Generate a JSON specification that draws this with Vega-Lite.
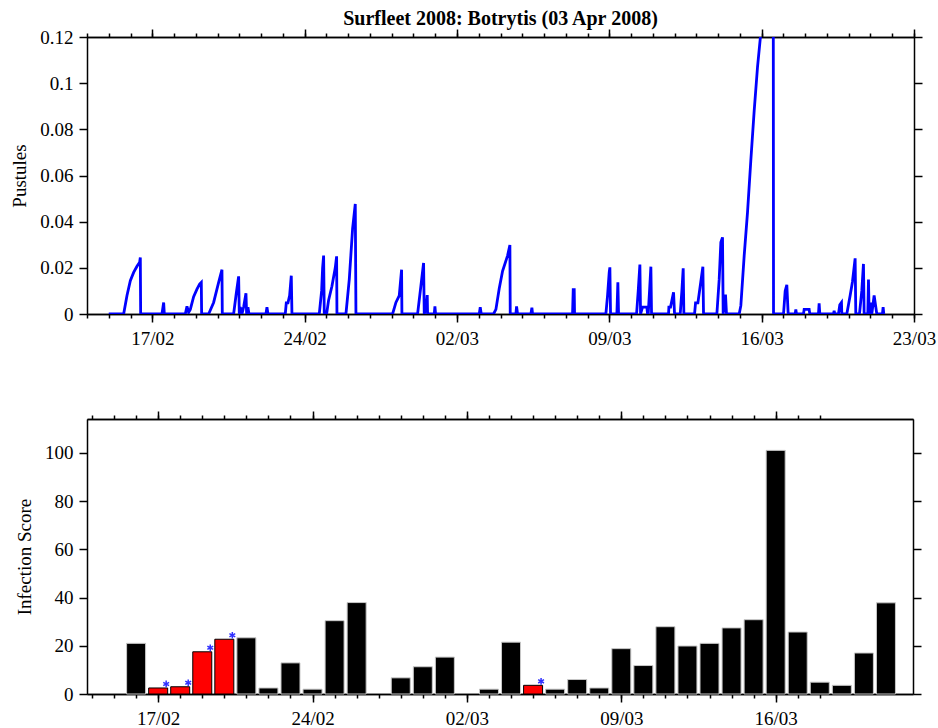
{
  "$schema": "https://vega.github.io/schema/vega-lite/v6.json",
  "background": "white",
  "padding": {"left": 10, "top": 9, "right": 2, "bottom": 2},
  "spacing": 62,
  "config": {
    "font": "Liberation Serif",
    "view": {"stroke": null},
    "axis": {
      "domainColor": "black", "domainWidth": 1.5, "tickColor": "black", "tickWidth": 1.5,
      "labelFont": "Liberation Serif", "labelFontSize": 19, "labelColor": "black",
      "titleFont": "Liberation Serif", "titleFontSize": 19, "titleFontWeight": "normal", "titleColor": "black",
      "grid": false, "labelFlush": false, "labelOverlap": false, "labelPadding": 7, "titlePadding": 10
    }
  },
  "datasets": {
    "pustules": [
      {"t": "2008-02-15T00:00", "v": 0},
      {"t": "2008-02-15T16:25", "v": 0},
      {"t": "2008-02-15T20:06", "v": 0.008},
      {"t": "2008-02-15T23:47", "v": 0.0144},
      {"t": "2008-02-16T03:27", "v": 0.018},
      {"t": "2008-02-16T07:08", "v": 0.0207},
      {"t": "2008-02-16T10:04", "v": 0.0224},
      {"t": "2008-02-16T10:48", "v": 0.0245},
      {"t": "2008-02-16T11:10", "v": 0},
      {"t": "2008-02-17T10:41", "v": 0},
      {"t": "2008-02-17T12:32", "v": 0.005},
      {"t": "2008-02-17T13:16", "v": 0},
      {"t": "2008-02-18T12:25", "v": 0},
      {"t": "2008-02-18T14:15", "v": 0.0033},
      {"t": "2008-02-18T16:05", "v": 0.0007},
      {"t": "2008-02-18T17:56", "v": 0.002},
      {"t": "2008-02-18T21:36", "v": 0.0075},
      {"t": "2008-02-19T01:17", "v": 0.0108},
      {"t": "2008-02-19T04:13", "v": 0.013},
      {"t": "2008-02-19T06:03", "v": 0.0137},
      {"t": "2008-02-19T06:25", "v": 0},
      {"t": "2008-02-19T14:09", "v": 0},
      {"t": "2008-02-19T19:39", "v": 0.005},
      {"t": "2008-02-20T01:10", "v": 0.0137},
      {"t": "2008-02-20T04:50", "v": 0.0192},
      {"t": "2008-02-20T05:12", "v": 0},
      {"t": "2008-02-20T17:42", "v": 0},
      {"t": "2008-02-20T20:38", "v": 0.009},
      {"t": "2008-02-20T23:13", "v": 0.0163},
      {"t": "2008-02-20T23:57", "v": 0},
      {"t": "2008-02-21T01:03", "v": 0.003},
      {"t": "2008-02-21T02:53", "v": 0},
      {"t": "2008-02-21T04:44", "v": 0.003},
      {"t": "2008-02-21T07:18", "v": 0.009},
      {"t": "2008-02-21T08:02", "v": 0},
      {"t": "2008-02-21T09:30", "v": 0.003},
      {"t": "2008-02-21T10:36", "v": 0},
      {"t": "2008-02-22T05:21", "v": 0},
      {"t": "2008-02-22T06:27", "v": 0.003},
      {"t": "2008-02-22T07:33", "v": 0},
      {"t": "2008-02-23T02:40", "v": 0},
      {"t": "2008-02-23T03:46", "v": 0.0048},
      {"t": "2008-02-23T05:36", "v": 0.0048},
      {"t": "2008-02-23T07:27", "v": 0.008},
      {"t": "2008-02-23T09:17", "v": 0.0166},
      {"t": "2008-02-23T10:01", "v": 0},
      {"t": "2008-02-24T16:09", "v": 0},
      {"t": "2008-02-24T18:44", "v": 0.01},
      {"t": "2008-02-24T19:50", "v": 0.02},
      {"t": "2008-02-24T20:56", "v": 0.0253},
      {"t": "2008-02-24T21:40", "v": 0},
      {"t": "2008-02-25T00:14", "v": 0},
      {"t": "2008-02-25T02:26", "v": 0.006},
      {"t": "2008-02-25T06:06", "v": 0.012},
      {"t": "2008-02-25T09:47", "v": 0.02},
      {"t": "2008-02-25T11:16", "v": 0.025},
      {"t": "2008-02-25T11:38", "v": 0},
      {"t": "2008-02-25T21:33", "v": 0},
      {"t": "2008-02-26T01:14", "v": 0.015},
      {"t": "2008-02-26T04:54", "v": 0.037},
      {"t": "2008-02-26T07:51", "v": 0.0477},
      {"t": "2008-02-26T08:35", "v": 0},
      {"t": "2008-02-28T01:00", "v": 0},
      {"t": "2008-02-28T04:41", "v": 0.005},
      {"t": "2008-02-28T08:21", "v": 0.008},
      {"t": "2008-02-28T10:55", "v": 0.0192},
      {"t": "2008-02-28T11:17", "v": 0},
      {"t": "2008-02-29T04:34", "v": 0},
      {"t": "2008-02-29T08:15", "v": 0.0123},
      {"t": "2008-02-29T11:11", "v": 0.0221},
      {"t": "2008-02-29T11:55", "v": 0},
      {"t": "2008-02-29T14:07", "v": 0.003},
      {"t": "2008-02-29T15:13", "v": 0.0082},
      {"t": "2008-02-29T15:35", "v": 0},
      {"t": "2008-02-29T22:57", "v": 0},
      {"t": "2008-02-29T23:41", "v": 0.0033},
      {"t": "2008-03-01T00:25", "v": 0},
      {"t": "2008-03-03T00:34", "v": 0},
      {"t": "2008-03-03T01:40", "v": 0.003},
      {"t": "2008-03-03T02:46", "v": 0},
      {"t": "2008-03-03T16:21", "v": 0},
      {"t": "2008-03-03T18:56", "v": 0.002},
      {"t": "2008-03-03T22:36", "v": 0.011},
      {"t": "2008-03-04T02:17", "v": 0.0186},
      {"t": "2008-03-04T07:48", "v": 0.0253},
      {"t": "2008-03-04T10:22", "v": 0.0299},
      {"t": "2008-03-04T10:44", "v": 0},
      {"t": "2008-03-04T16:59", "v": 0},
      {"t": "2008-03-04T17:43", "v": 0.0033},
      {"t": "2008-03-04T18:49", "v": 0},
      {"t": "2008-03-05T09:31", "v": 0},
      {"t": "2008-03-05T10:37", "v": 0.0027},
      {"t": "2008-03-05T11:21", "v": 0},
      {"t": "2008-03-07T07:27", "v": 0},
      {"t": "2008-03-07T08:12", "v": 0.0105},
      {"t": "2008-03-07T09:18", "v": 0.0105},
      {"t": "2008-03-07T09:40", "v": 0},
      {"t": "2008-03-08T20:13", "v": 0},
      {"t": "2008-03-08T22:03", "v": 0.008},
      {"t": "2008-03-08T23:53", "v": 0.018},
      {"t": "2008-03-09T00:37", "v": 0.0202},
      {"t": "2008-03-09T01:21", "v": 0},
      {"t": "2008-03-09T08:20", "v": 0},
      {"t": "2008-03-09T09:26", "v": 0.0137},
      {"t": "2008-03-09T10:11", "v": 0},
      {"t": "2008-03-10T06:03", "v": 0},
      {"t": "2008-03-10T07:53", "v": 0.01},
      {"t": "2008-03-10T09:43", "v": 0.0214},
      {"t": "2008-03-10T10:27", "v": 0},
      {"t": "2008-03-10T12:39", "v": 0.003},
      {"t": "2008-03-10T17:26", "v": 0.003},
      {"t": "2008-03-10T18:10", "v": 0},
      {"t": "2008-03-10T18:54", "v": 0},
      {"t": "2008-03-10T20:22", "v": 0.01},
      {"t": "2008-03-10T21:50", "v": 0.0205},
      {"t": "2008-03-10T22:34", "v": 0},
      {"t": "2008-03-11T17:19", "v": 0},
      {"t": "2008-03-11T17:41", "v": 0.003},
      {"t": "2008-03-11T19:31", "v": 0.003},
      {"t": "2008-03-11T22:50", "v": 0.0094},
      {"t": "2008-03-11T23:56", "v": 0},
      {"t": "2008-03-12T06:11", "v": 0},
      {"t": "2008-03-12T08:01", "v": 0.01},
      {"t": "2008-03-12T09:29", "v": 0.0198},
      {"t": "2008-03-12T10:13", "v": 0},
      {"t": "2008-03-12T22:00", "v": 0},
      {"t": "2008-03-12T23:06", "v": 0.0048},
      {"t": "2008-03-13T01:40", "v": 0.0048},
      {"t": "2008-03-13T04:13", "v": 0.012},
      {"t": "2008-03-13T07:10", "v": 0.0205},
      {"t": "2008-03-13T07:54", "v": 0},
      {"t": "2008-03-13T22:36", "v": 0},
      {"t": "2008-03-14T01:10", "v": 0.015},
      {"t": "2008-03-14T03:00", "v": 0.0311},
      {"t": "2008-03-14T04:50", "v": 0.0332},
      {"t": "2008-03-14T05:34", "v": 0},
      {"t": "2008-03-14T08:08", "v": 0.0084},
      {"t": "2008-03-14T09:14", "v": 0},
      {"t": "2008-03-14T23:13", "v": 0},
      {"t": "2008-03-15T01:03", "v": 0.0036},
      {"t": "2008-03-15T04:44", "v": 0.0253},
      {"t": "2008-03-15T08:24", "v": 0.044},
      {"t": "2008-03-15T12:05", "v": 0.0667},
      {"t": "2008-03-15T15:45", "v": 0.088},
      {"t": "2008-03-15T19:26", "v": 0.107},
      {"t": "2008-03-15T22:23", "v": 0.119},
      {"t": "2008-03-16T05:44", "v": 0.15},
      {"t": "2008-03-16T12:43", "v": 0.18},
      {"t": "2008-03-16T13:05", "v": 0},
      {"t": "2008-03-17T00:06", "v": 0},
      {"t": "2008-03-17T01:56", "v": 0.01},
      {"t": "2008-03-17T03:45", "v": 0.0126},
      {"t": "2008-03-17T05:14", "v": 0},
      {"t": "2008-03-17T12:57", "v": 0},
      {"t": "2008-03-17T13:41", "v": 0.002},
      {"t": "2008-03-17T14:25", "v": 0},
      {"t": "2008-03-17T22:08", "v": 0},
      {"t": "2008-03-17T22:52", "v": 0.002},
      {"t": "2008-03-18T00:42", "v": 0.002},
      {"t": "2008-03-18T01:48", "v": 0.002},
      {"t": "2008-03-18T04:22", "v": 0.002},
      {"t": "2008-03-18T05:06", "v": 0},
      {"t": "2008-03-18T14:39", "v": 0},
      {"t": "2008-03-18T15:23", "v": 0.0046},
      {"t": "2008-03-18T16:08", "v": 0},
      {"t": "2008-03-19T07:12", "v": 0},
      {"t": "2008-03-19T07:56", "v": 0.0014},
      {"t": "2008-03-19T08:40", "v": 0},
      {"t": "2008-03-19T12:43", "v": 0},
      {"t": "2008-03-19T14:11", "v": 0.004},
      {"t": "2008-03-19T16:01", "v": 0.005},
      {"t": "2008-03-19T16:23", "v": 0},
      {"t": "2008-03-19T21:54", "v": 0},
      {"t": "2008-03-20T01:35", "v": 0.008},
      {"t": "2008-03-20T04:09", "v": 0.014},
      {"t": "2008-03-20T07:05", "v": 0.0241},
      {"t": "2008-03-20T07:49", "v": 0},
      {"t": "2008-03-20T11:52", "v": 0},
      {"t": "2008-03-20T14:26", "v": 0.01},
      {"t": "2008-03-20T16:16", "v": 0.0217},
      {"t": "2008-03-20T17:01", "v": 0},
      {"t": "2008-03-20T21:03", "v": 0},
      {"t": "2008-03-20T21:48", "v": 0.0149},
      {"t": "2008-03-20T22:32", "v": 0},
      {"t": "2008-03-21T00:44", "v": 0.005},
      {"t": "2008-03-21T01:28", "v": 0},
      {"t": "2008-03-21T04:02", "v": 0.008},
      {"t": "2008-03-21T05:30", "v": 0.004},
      {"t": "2008-03-21T06:58", "v": 0},
      {"t": "2008-03-21T13:13", "v": 0},
      {"t": "2008-03-21T13:57", "v": 0.003},
      {"t": "2008-03-21T14:41", "v": 0},
      {"t": "2008-03-21T15:03", "v": 0}
    ],
    "scores": [
      {"d": "2008-02-16T00:00", "score": 21, "risk": "no"},
      {"d": "2008-02-17T00:00", "score": 2.5, "risk": "yes"},
      {"d": "2008-02-18T00:00", "score": 3, "risk": "yes"},
      {"d": "2008-02-19T00:00", "score": 17.5, "risk": "yes"},
      {"d": "2008-02-20T00:00", "score": 22.7, "risk": "yes"},
      {"d": "2008-02-21T00:00", "score": 23.3, "risk": "no"},
      {"d": "2008-02-22T00:00", "score": 2.5, "risk": "no"},
      {"d": "2008-02-23T00:00", "score": 12.9, "risk": "no"},
      {"d": "2008-02-24T00:00", "score": 2, "risk": "no"},
      {"d": "2008-02-25T00:00", "score": 30.4, "risk": "no"},
      {"d": "2008-02-26T00:00", "score": 37.9, "risk": "no"},
      {"d": "2008-02-28T00:00", "score": 6.7, "risk": "no"},
      {"d": "2008-02-29T00:00", "score": 11.3, "risk": "no"},
      {"d": "2008-03-01T00:00", "score": 15.3, "risk": "no"},
      {"d": "2008-03-03T00:00", "score": 2, "risk": "no"},
      {"d": "2008-03-04T00:00", "score": 21.5, "risk": "no"},
      {"d": "2008-03-05T00:00", "score": 3.6, "risk": "yes"},
      {"d": "2008-03-06T00:00", "score": 2, "risk": "no"},
      {"d": "2008-03-07T00:00", "score": 6, "risk": "no"},
      {"d": "2008-03-08T00:00", "score": 2.5, "risk": "no"},
      {"d": "2008-03-09T00:00", "score": 18.8, "risk": "no"},
      {"d": "2008-03-10T00:00", "score": 11.8, "risk": "no"},
      {"d": "2008-03-11T00:00", "score": 27.9, "risk": "no"},
      {"d": "2008-03-12T00:00", "score": 19.9, "risk": "no"},
      {"d": "2008-03-13T00:00", "score": 21, "risk": "no"},
      {"d": "2008-03-14T00:00", "score": 27.4, "risk": "no"},
      {"d": "2008-03-15T00:00", "score": 30.8, "risk": "no"},
      {"d": "2008-03-16T00:00", "score": 101, "risk": "no"},
      {"d": "2008-03-17T00:00", "score": 25.7, "risk": "no"},
      {"d": "2008-03-18T00:00", "score": 4.9, "risk": "no"},
      {"d": "2008-03-19T00:00", "score": 3.6, "risk": "no"},
      {"d": "2008-03-20T00:00", "score": 17, "risk": "no"},
      {"d": "2008-03-21T00:00", "score": 37.8, "risk": "no"}
    ]
  },
  "vconcat": [
    {
      "width": 827,
      "height": 277,
      "title": {"text": "Surfleet 2008: Botrytis (03 Apr 2008)", "font": "Liberation Serif", "fontSize": 20, "fontWeight": "bold", "color": "black", "anchor": "middle", "baseline": "alphabetic", "offset": -17},
      "data": {"name": "pustules"},
      "layer": [
        {
          "mark": {"type": "line", "strokeOpacity": 0, "clip": true},
          "encoding": {
            "x": {"field": "t", "type": "temporal", "scale": {"domain": [{"year": 2008, "month": 2, "date": 14}, {"year": 2008, "month": 3, "date": 23}]}, "axis": {"orient": "top", "tickCount": "week", "labels": false, "tickSize": 8, "title": null}},
            "y": {"field": "v", "type": "quantitative", "scale": {"domain": [0, 0.12], "nice": false, "zero": true}, "axis": {"orient": "right", "labels": false, "tickSize": 8, "title": null, "values": [0, 0.02, 0.04, 0.06, 0.08, 0.1, 0.12]}}
          }
        },
        {
          "mark": {"type": "line", "strokeOpacity": 0, "clip": true},
          "encoding": {
            "x": {"field": "t", "type": "temporal", "scale": {"domain": [{"year": 2008, "month": 2, "date": 14}, {"year": 2008, "month": 3, "date": 23}]}, "axis": {"orient": "top", "tickCount": "day", "labels": false, "tickSize": 4, "title": null}},
            "y": {"field": "v", "type": "quantitative", "axis": null}
          }
        },
        {
          "mark": {"type": "line", "strokeOpacity": 0, "clip": true},
          "encoding": {
            "x": {"field": "t", "type": "temporal", "scale": {"domain": [{"year": 2008, "month": 2, "date": 14}, {"year": 2008, "month": 3, "date": 23}]}, "axis": {"orient": "bottom", "tickCount": "day", "labels": false, "tickSize": 4, "title": null}},
            "y": {"field": "v", "type": "quantitative", "axis": null}
          }
        },
        {
          "mark": {"type": "line", "color": "#0000ff", "strokeWidth": 2.8, "clip": true},
          "encoding": {
            "x": {"field": "t", "type": "temporal", "scale": {"domain": [{"year": 2008, "month": 2, "date": 14}, {"year": 2008, "month": 3, "date": 23}]}, "axis": {"orient": "bottom", "tickCount": "week", "format": "%d/%m", "tickSize": 8, "labelPadding": 7, "title": null}},
            "y": {"field": "v", "type": "quantitative", "axis": {"orient": "left", "title": "Pustules", "values": [0, 0.02, 0.04, 0.06, 0.08, 0.1, 0.12], "format": ".2~f", "tickSize": 8, "labelPadding": 6}}
          }
        }
      ],
      "resolve": {"axis": {"x": "independent", "y": "independent"}}
    },
    {
      "width": 826,
      "height": 275,
      "data": {"name": "scores"},
      "layer": [
        {
          "mark": {"type": "point", "opacity": 0, "clip": true},
          "encoding": {
            "x": {"field": "d", "type": "temporal", "scale": {"domain": [{"year": 2008, "month": 2, "date": 14}, {"year": 2008, "month": 3, "date": 22}]}, "axis": {"orient": "top", "tickCount": "week", "labels": false, "tickSize": 8, "title": null}},
            "y": {"field": "score", "type": "quantitative", "scale": {"domain": [0, 114], "nice": false}, "axis": {"orient": "right", "labels": false, "tickSize": 8, "title": null, "values": [0, 20, 40, 60, 80, 100]}}
          }
        },
        {
          "mark": {"type": "point", "opacity": 0, "clip": true},
          "encoding": {
            "x": {"field": "d", "type": "temporal", "axis": {"orient": "top", "labels": false, "tickSize": 4, "title": null, "values": [
              {"year": 2008, "month": 2, "date": 14}, {"year": 2008, "month": 2, "date": 15}, {"year": 2008, "month": 2, "date": 16}, {"year": 2008, "month": 2, "date": 17}, {"year": 2008, "month": 2, "date": 18}, {"year": 2008, "month": 2, "date": 19}, {"year": 2008, "month": 2, "date": 20}, {"year": 2008, "month": 2, "date": 21}, {"year": 2008, "month": 2, "date": 22}, {"year": 2008, "month": 2, "date": 23}, {"year": 2008, "month": 2, "date": 24}, {"year": 2008, "month": 2, "date": 25}, {"year": 2008, "month": 2, "date": 26}, {"year": 2008, "month": 2, "date": 27}, {"year": 2008, "month": 2, "date": 28}, {"year": 2008, "month": 2, "date": 29},
              {"year": 2008, "month": 3, "date": 1}, {"year": 2008, "month": 3, "date": 2}, {"year": 2008, "month": 3, "date": 3}, {"year": 2008, "month": 3, "date": 4}, {"year": 2008, "month": 3, "date": 5}, {"year": 2008, "month": 3, "date": 6}, {"year": 2008, "month": 3, "date": 7}, {"year": 2008, "month": 3, "date": 8}, {"year": 2008, "month": 3, "date": 9}, {"year": 2008, "month": 3, "date": 10}, {"year": 2008, "month": 3, "date": 11}, {"year": 2008, "month": 3, "date": 12}, {"year": 2008, "month": 3, "date": 13}, {"year": 2008, "month": 3, "date": 14}, {"year": 2008, "month": 3, "date": 15}, {"year": 2008, "month": 3, "date": 16}, {"year": 2008, "month": 3, "date": 17}, {"year": 2008, "month": 3, "date": 18}
            ]}},
            "y": {"field": "score", "type": "quantitative", "axis": null}
          }
        },
        {
          "mark": {"type": "point", "opacity": 0, "clip": true},
          "encoding": {
            "x": {"field": "d", "type": "temporal", "axis": {"orient": "bottom", "labels": false, "tickSize": 4, "title": null, "values": [
              {"year": 2008, "month": 2, "date": 14}, {"year": 2008, "month": 2, "date": 15}, {"year": 2008, "month": 2, "date": 16}, {"year": 2008, "month": 2, "date": 17}, {"year": 2008, "month": 2, "date": 18}, {"year": 2008, "month": 2, "date": 19}, {"year": 2008, "month": 2, "date": 20}, {"year": 2008, "month": 2, "date": 21}, {"year": 2008, "month": 2, "date": 22}, {"year": 2008, "month": 2, "date": 23}, {"year": 2008, "month": 2, "date": 24}, {"year": 2008, "month": 2, "date": 25}, {"year": 2008, "month": 2, "date": 26}, {"year": 2008, "month": 2, "date": 27}, {"year": 2008, "month": 2, "date": 28}, {"year": 2008, "month": 2, "date": 29},
              {"year": 2008, "month": 3, "date": 1}, {"year": 2008, "month": 3, "date": 2}, {"year": 2008, "month": 3, "date": 3}, {"year": 2008, "month": 3, "date": 4}, {"year": 2008, "month": 3, "date": 5}, {"year": 2008, "month": 3, "date": 6}, {"year": 2008, "month": 3, "date": 7}, {"year": 2008, "month": 3, "date": 8}, {"year": 2008, "month": 3, "date": 9}, {"year": 2008, "month": 3, "date": 10}, {"year": 2008, "month": 3, "date": 11}, {"year": 2008, "month": 3, "date": 12}, {"year": 2008, "month": 3, "date": 13}, {"year": 2008, "month": 3, "date": 14}, {"year": 2008, "month": 3, "date": 15}, {"year": 2008, "month": 3, "date": 16}, {"year": 2008, "month": 3, "date": 17}, {"year": 2008, "month": 3, "date": 18}
            ]}},
            "y": {"field": "score", "type": "quantitative", "axis": null}
          }
        },
        {
          "mark": {"type": "bar", "width": 19, "strokeWidth": 1},
          "encoding": {
            "x": {"field": "d", "type": "temporal", "axis": {"orient": "bottom", "tickCount": "week", "format": "%d/%m", "tickSize": 8, "labelPadding": 7, "title": null}},
            "y": {"field": "score", "type": "quantitative", "axis": {"orient": "left", "title": "Infection Score", "values": [0, 20, 40, 60, 80, 100], "tickSize": 8, "labelPadding": 6}},
            "fill": {"field": "risk", "type": "nominal", "scale": {"domain": ["no", "yes"], "range": ["#000000", "#ff0000"]}, "legend": null},
            "stroke": {"field": "risk", "type": "nominal", "scale": {"domain": ["no", "yes"], "range": ["#c8c8c8", "#000000"]}, "legend": null}
          }
        },
        {
          "transform": [{"filter": "datum.risk === 'yes'"}],
          "mark": {"type": "point", "shape": "M0,-1L0,1M-0.87,-0.5L0.87,0.5M-0.87,0.5L0.87,-0.5", "filled": false, "color": "#3030ff", "strokeWidth": 1.5, "size": 45, "opacity": 1, "xOffset": 8, "yOffset": -4},
          "encoding": {
            "x": {"field": "d", "type": "temporal", "axis": null},
            "y": {"field": "score", "type": "quantitative", "axis": null}
          }
        }
      ],
      "resolve": {"axis": {"x": "independent", "y": "independent"}}
    }
  ]
}
